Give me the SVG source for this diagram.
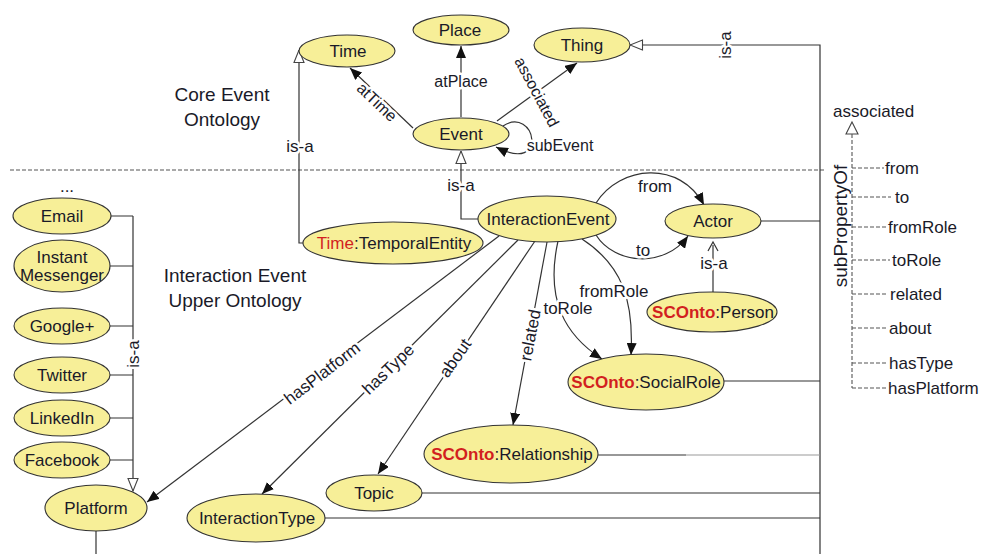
<svg xmlns="http://www.w3.org/2000/svg" width="984" height="554" viewBox="0 0 984 554">
  <style>
    text { font-family: "Liberation Sans", Arial, sans-serif; fill: #1a1a28; }
    .node ellipse { fill: #f7ef98; stroke: #333; stroke-width: 1.1; }
    .node text { font-size: 17px; text-anchor: middle; }
    .red { fill: #d21f1f; }
    .bold { font-weight: bold; }
    .edge { fill: none; stroke: #333; stroke-width: 1.2; }
    .light { fill: none; stroke: #9a9a9a; stroke-width: 1.2; }
    .dash { fill: none; stroke: #555; stroke-width: 1.1; stroke-dasharray: 4 2; }
    .lbl { font-size: 17px; text-anchor: middle; stroke: #fff; stroke-width: 5; stroke-linejoin: round; paint-order: stroke; }
    .lbl16 { font-size: 16px; }
    .title { font-size: 19px; text-anchor: middle; }
    .prop { font-size: 17px; }
  </style>
  <defs>
    <marker id="arrow" viewBox="0 0 12 10" refX="12" refY="5" markerWidth="12" markerHeight="10" markerUnits="userSpaceOnUse" orient="auto">
      <path d="M0,0 L12,5 L0,10 z" fill="#111"/>
    </marker>
    <marker id="tri" viewBox="0 0 14 12" refX="13.5" refY="6" markerWidth="14" markerHeight="12" markerUnits="userSpaceOnUse" orient="auto">
      <path d="M1,1 L13.5,6 L1,11 z" fill="#fff" stroke="#444" stroke-width="1.1"/>
    </marker>
  </defs>

  <!-- separator between the two ontology layers -->
  <line class="dash" x1="10" y1="170" x2="826" y2="170"/>

  <!-- section titles -->
  <text class="title" x="222" y="101">Core Event</text>
  <text class="title" x="222" y="126">Ontology</text>
  <text class="title" x="235" y="282">Interaction Event</text>
  <text class="title" x="235" y="307">Upper Ontology</text>

  <g id="connectors">
    <!-- core event ontology -->
    <path class="edge" d="M413 128 L350 68" marker-end="url(#arrow)"/>
    <path class="edge" d="M461 117 L461 46" marker-end="url(#arrow)"/>
    <path class="edge" d="M497 121 L577 63" marker-end="url(#arrow)"/>
    <path class="edge" d="M503 126 C535 105, 550 175, 496 147" marker-end="url(#arrow)"/>

    <!-- is-a links -->
    <path class="edge" d="M820 554 L820 45 L630 45" marker-end="url(#tri)"/>
    <path class="edge" d="M303 243 L299 243 L299 50" marker-end="url(#tri)"/>
    <path class="edge" d="M478 219 L461 219 L461 151" marker-end="url(#tri)"/>
    <path class="edge" d="M713 292 L713 245"/>
    <path class="edge" d="M708 251 L713 242 L718 251"/>
    <path class="edge" d="M111 216 H133 M110 266 H133 M110 326 H133 M110 375 H133 M110 418 H133 M110 460 H133"/>
    <path class="edge" d="M133 216 L133 491" marker-end="url(#tri)"/>

    <!-- interaction event properties -->
    <path class="edge" d="M596 203 C620 165, 680 160, 704 205" marker-end="url(#arrow)"/>
    <path class="edge" d="M596 235 C615 265, 665 268, 688 236" marker-end="url(#arrow)"/>
    <path class="edge" d="M582 239 C622 265, 634 300, 631 355" marker-end="url(#arrow)"/>
    <path class="edge" d="M558 241 C545 300, 565 335, 602 359" marker-end="url(#arrow)"/>
    <path class="edge" d="M547 242 L513 425" marker-end="url(#arrow)"/>
    <path class="edge" d="M535 241 L378 474" marker-end="url(#arrow)"/>
    <path class="edge" d="M518 240 L262 494" marker-end="url(#arrow)"/>
    <path class="edge" d="M499 236 L147 502" marker-end="url(#arrow)"/>

    <!-- links into the right-hand trunk -->
    <path class="edge" d="M761 221 H820"/>
    <path class="edge" d="M724 381 H820"/>
    <path class="edge" d="M598 455 H686"/>
    <path class="light" d="M686 455 H820"/>
    <path class="edge" d="M422 493 H820"/>
    <path class="edge" d="M325 518 H820"/>
    <path class="edge" d="M96 531 V554"/>

    <!-- connector labels -->
    <text class="lbl lbl16" transform="translate(377 102) rotate(43.6)" dy="0.35em">atTime</text>
    <text class="lbl lbl16" x="461" y="87">atPlace</text>
    <text class="lbl lbl16" transform="translate(537 92) rotate(62)" dy="0.35em">associated</text>
    <text class="lbl lbl16" x="560" y="151">subEvent</text>
    <text class="lbl" transform="translate(725 45) rotate(-90)" dy="0.35em">is-a</text>
    <text class="lbl" x="300" y="152">is-a</text>
    <text class="lbl" x="461" y="191">is-a</text>
    <text class="lbl" x="714" y="269">is-a</text>
    <text class="lbl" transform="translate(133 354) rotate(-90)" dy="0.35em">is-a</text>
    <text class="lbl" x="655" y="192">from</text>
    <text class="lbl" x="643" y="256">to</text>
    <text class="lbl" x="568" y="314">toRole</text>
    <text class="lbl" x="614" y="297">fromRole</text>
    <text class="lbl" transform="translate(530 335) rotate(-79)" dy="0.35em">related</text>
    <text class="lbl" transform="translate(455 358) rotate(-55)" dy="0.35em">about</text>
    <text class="lbl" transform="translate(388 369) rotate(-44)" dy="0.35em">hasType</text>
    <text class="lbl" transform="translate(322 373) rotate(-37.5)" dy="0.35em">hasPlatform</text>
  </g>

  <!-- core event ontology nodes -->
  <g id="time" class="node"><ellipse cx="347" cy="51" rx="48" ry="16"/><text x="348" y="57">Time</text></g>
  <g id="place" class="node"><ellipse cx="461" cy="30" rx="48" ry="15"/><text x="460" y="36">Place</text></g>
  <g id="thing" class="node"><ellipse cx="582" cy="45" rx="48" ry="17"/><text x="582" y="51">Thing</text></g>
  <g id="event" class="node"><ellipse cx="461" cy="134" rx="48" ry="16"/><text x="461" y="140">Event</text></g>

  <!-- interaction event upper ontology nodes -->
  <g id="interaction-event" class="node"><ellipse cx="547" cy="219" rx="69" ry="23"/><text x="548" y="225">InteractionEvent</text></g>
  <g id="temporal-entity" class="node"><ellipse cx="393" cy="243" rx="90" ry="21"/><text x="394" y="249"><tspan class="red">Time</tspan>:TemporalEntity</text></g>
  <g id="actor" class="node"><ellipse cx="713" cy="221" rx="48" ry="17"/><text x="713" y="227">Actor</text></g>
  <g id="person" class="node"><ellipse cx="712" cy="312" rx="65" ry="20"/><text x="713" y="318"><tspan class="red bold">SCOnto</tspan>:Person</text></g>
  <g id="social-role" class="node"><ellipse cx="646" cy="382" rx="78" ry="28"/><text x="646" y="388"><tspan class="red bold">SCOnto</tspan>:SocialRole</text></g>
  <g id="relationship" class="node"><ellipse cx="511" cy="454" rx="87" ry="29"/><text x="512" y="460"><tspan class="red bold">SCOnto</tspan>:Relationship</text></g>
  <g id="topic" class="node"><ellipse cx="374" cy="493" rx="48" ry="18"/><text x="374" y="499">Topic</text></g>
  <g id="interaction-type" class="node"><ellipse cx="256" cy="518" rx="69" ry="24"/><text x="257" y="524">InteractionType</text></g>
  <g id="platform" class="node"><ellipse cx="96" cy="508" rx="51" ry="23"/><text x="96" y="514">Platform</text></g>

  <!-- platform subclasses -->
  <text x="67" y="192" style="font-size:17px;text-anchor:middle">...</text>
  <g id="email" class="node"><ellipse cx="62" cy="216" rx="49" ry="18"/><text x="62" y="222">Email</text></g>
  <g id="instant-messenger" class="node"><ellipse cx="62" cy="266" rx="48" ry="26"/><text x="62" y="263">Instant</text><text x="62" y="281">Messenger</text></g>
  <g id="google-plus" class="node"><ellipse cx="62" cy="326" rx="48" ry="18"/><text x="62" y="332">Google+</text></g>
  <g id="twitter" class="node"><ellipse cx="62" cy="375" rx="48" ry="18"/><text x="62" y="381">Twitter</text></g>
  <g id="linkedin" class="node"><ellipse cx="62" cy="418" rx="48" ry="18"/><text x="62" y="424">LinkedIn</text></g>
  <g id="facebook" class="node"><ellipse cx="62" cy="460" rx="48" ry="18"/><text x="62" y="466">Facebook</text></g>

  <!-- property hierarchy -->
  <g id="property-hierarchy">
    <text class="prop" x="833" y="117">associated</text>
    <path d="M852 122 L858 134 L846 134 z" fill="#fff" stroke="#444" stroke-width="1.1"/>
    <path class="dash" d="M852 134 V388"/>
    <path class="dash" d="M852 168 H884 M852 197 H891 M852 227 H887 M852 260 H890 M852 294 H888 M852 328 H888 M852 363 H888 M852 388 H887"/>
    <text class="prop" x="885" y="174">from</text>
    <text class="prop" x="895" y="203">to</text>
    <text class="prop" x="888" y="233">fromRole</text>
    <text class="prop" x="892" y="266">toRole</text>
    <text class="prop" x="890" y="300">related</text>
    <text class="prop" x="889" y="334">about</text>
    <text class="prop" x="889" y="369">hasType</text>
    <text class="prop" x="888" y="394">hasPlatform</text>
    <text transform="translate(847 226) rotate(-90)" style="font-size:19px;text-anchor:middle">subPropertyOf</text>
  </g>
</svg>
